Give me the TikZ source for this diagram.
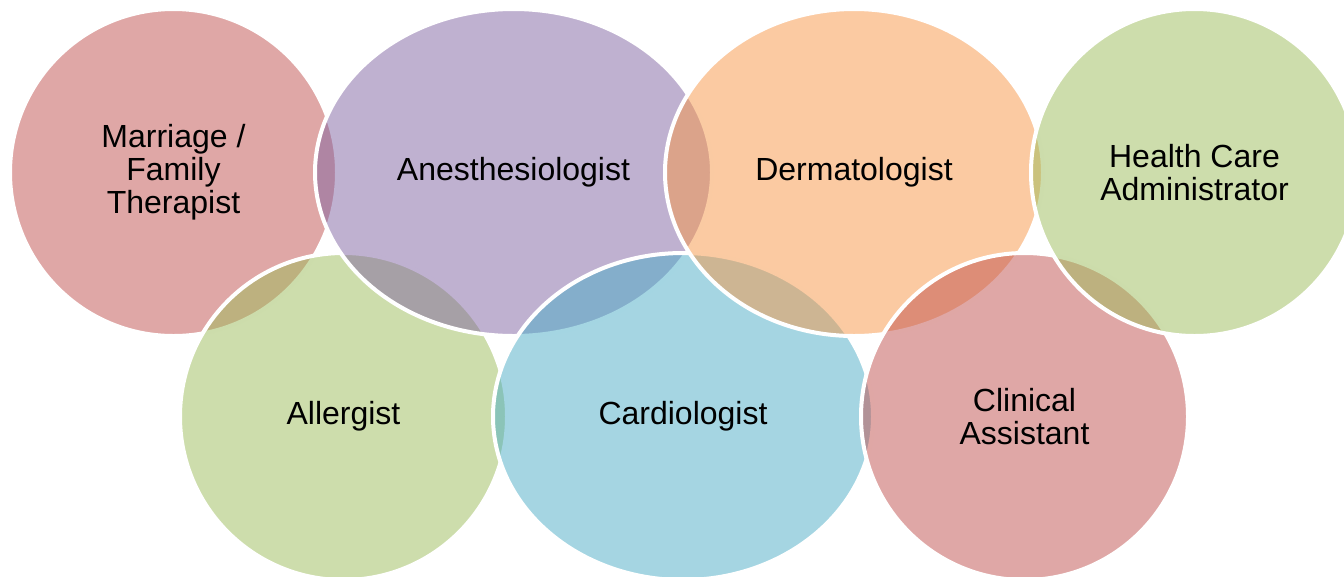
\documentclass[tikz,border=0pt]{standalone}
\usepackage{fontspec}
\setmainfont{Liberation Sans}
\usetikzlibrary{shapes.geometric}
\definecolor{cred}{HTML}{C0504D}
\definecolor{cpurple}{HTML}{8064A2}
\definecolor{corange}{HTML}{F79646}
\definecolor{cgreen}{HTML}{9BBB59}
\definecolor{cblue}{HTML}{4BACC6}
\begin{document}
\begin{tikzpicture}[x=0.75pt,y=-0.75pt,
  bubble/.style={ellipse, draw=white, line width=3pt, fill opacity=0.5, draw opacity=1,
    text opacity=1, inner sep=0pt, align=center, text=black,
    font=\fontsize{24}{24.75}\selectfont, minimum height=245.25pt},
  roundb/.style={bubble, minimum width=245.25pt}]
\useasboundingbox (0,0) rectangle (1344,576);
\clip (0,0) rectangle (1344,576);
\node[roundb, fill=cred] (marriage) at (173.5,172.5) {Marriage /\\Family\\Therapist};
\node[roundb, fill=cgreen] (allergist) at (343.5,416.5) {Allergist};
\node[bubble, fill=cpurple, minimum width=297.75pt] (anesth) at (513.5,172.5) {Anesthesiologist};
\node[bubble, fill=cblue, minimum width=285pt] (cardio) at (683,416.5) {Cardiologist};
\node[bubble, fill=corange, minimum width=283.5pt] (derm) at (854,172.5) {Dermatologist};
\node[roundb, fill=cred] (clinical) at (1024.5,416.5) {Clinical\\Assistant};
\node[roundb, fill=cgreen] (health) at (1194.5,172.5) {Health Care\\Administrator};
\end{tikzpicture}
\end{document}
